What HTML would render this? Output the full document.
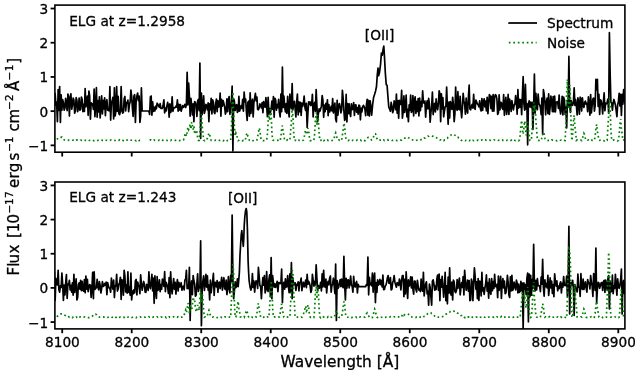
<!DOCTYPE html><html><head><meta charset="utf-8"><style>html,body{margin:0;padding:0;background:#fff;overflow:hidden}svg{display:block}</style></head><body><svg width="635" height="370" viewBox="0 0 635 370" font-family="DejaVu Sans, Liberation Sans, sans-serif">
<style>text{stroke:#000;stroke-width:0.3px}</style>
<rect width="635" height="370" fill="#fff"/>
<clipPath id="c0"><rect x="54.9" y="5.1" width="570.0" height="147.1"/></clipPath>
<polyline points="52.90,113.61 53.65,114.59 54.40,106.05 55.15,93.70 55.90,105.14 56.65,102.20 57.40,121.70 58.15,89.60 58.90,110.46 59.65,86.55 60.40,122.45 61.15,94.89 61.90,110.19 62.65,99.61 63.40,102.41 64.15,110.15 64.90,108.11 65.65,98.29 66.40,104.49 67.15,110.55 67.90,94.03 68.65,97.99 69.40,116.07 70.15,97.19 70.90,93.78 71.65,109.23 72.40,105.58 73.15,98.13 73.90,99.98 74.65,113.24 75.40,111.08 76.15,97.65 76.90,100.20 77.65,111.63 78.40,107.74 79.15,98.17 79.90,110.32 80.65,109.30 81.40,97.02 82.15,99.52 82.90,111.74 83.65,104.40 84.40,111.40 85.15,88.56 85.90,106.78 86.65,101.91 87.40,96.14 88.15,115.29 88.90,91.00 89.65,95.92 90.40,119.16 91.15,102.86 91.90,104.58 92.65,103.98 93.40,109.45 94.15,89.01 94.90,116.69 95.65,105.58 96.40,87.72 97.15,117.15 97.90,100.64 98.65,111.83 99.40,96.75 100.15,118.00 100.90,107.20 101.65,95.93 102.40,113.99 103.15,100.31 103.90,108.82 104.65,97.76 105.40,115.67 106.15,102.92 106.90,99.72 107.65,110.29 108.40,110.44 109.15,110.90 109.90,86.55 110.65,120.10 111.40,103.01 112.15,101.15 112.90,97.42 113.65,119.00 114.40,87.83 115.15,115.94 115.90,111.13 116.65,86.55 117.40,111.28 118.15,96.32 118.90,113.77 119.65,114.56 120.40,111.21 121.15,86.55 121.90,110.24 122.65,113.08 123.40,112.45 124.15,98.73 124.90,96.47 125.65,110.98 126.40,102.69 127.15,103.05 127.90,100.10 128.65,111.59 129.40,104.63 130.15,102.05 130.90,90.00 131.65,96.04 132.40,108.11 133.15,116.38 133.90,96.22 134.65,94.70 135.40,122.45 136.15,100.94 136.90,96.00 137.65,93.02 138.40,100.66 139.15,96.17 139.90,122.45 140.65,116.25 141.40,87.97 142.15,111.00 142.90,111.00 143.65,111.00 144.40,111.00 145.15,111.00 145.90,111.00 146.65,111.00 147.40,111.00 148.15,111.00 148.90,111.00 149.65,114.50 150.40,96.74 151.15,96.00 151.90,115.14 152.65,101.87 153.40,111.42 154.15,107.46 154.90,110.96 155.65,106.22 156.40,108.76 157.15,103.22 157.90,104.35 158.65,106.10 159.40,107.26 160.15,103.70 160.90,108.30 161.65,108.37 162.40,108.39 163.15,104.72 163.90,99.79 164.65,112.92 165.40,108.21 166.15,110.95 166.90,105.98 167.65,102.35 168.40,105.96 169.15,117.26 169.90,103.75 170.65,112.46 171.40,110.27 172.15,96.74 172.90,111.31 173.65,107.73 174.40,107.93 175.15,107.53 175.90,106.12 176.65,107.10 177.40,99.95 178.15,111.15 178.90,104.31 179.65,109.97 180.40,104.57 181.15,111.19 181.90,108.53 182.65,105.68 183.40,107.31 184.15,106.19 184.90,104.34 185.65,107.43 186.40,104.71 187.15,72.30 187.90,104.89 188.65,83.00 189.40,96.72 190.15,116.17 190.90,98.28 191.65,105.11 192.40,115.00 193.15,103.74 193.90,121.70 194.65,101.69 195.40,102.52 196.15,105.73 196.90,116.47 197.65,100.88 198.40,99.46 199.15,110.72 199.90,63.00 200.65,138.40 201.40,93.10 202.15,114.68 202.90,106.92 203.65,95.88 204.40,113.40 205.15,110.07 205.90,104.39 206.65,105.41 207.40,109.96 208.15,102.91 208.90,121.70 209.65,103.83 210.40,109.80 211.15,98.23 211.90,113.95 212.65,99.92 213.40,102.01 214.15,112.24 214.90,113.51 215.65,104.18 216.40,99.16 217.15,111.69 217.90,100.55 218.65,106.99 219.40,106.80 220.15,92.99 220.90,116.23 221.65,99.47 222.40,106.20 223.15,100.66 223.90,103.57 224.65,106.83 225.40,114.06 226.15,111.43 226.90,98.89 227.65,111.76 228.40,99.91 229.15,96.50 229.90,114.30 230.65,107.55 231.40,101.62 232.15,86.20 232.90,151.00 233.65,98.75 234.40,101.24 235.15,110.50 235.90,105.47 236.65,104.66 237.40,112.46 238.15,111.02 238.90,96.46 239.65,111.15 240.40,107.94 241.15,105.72 241.90,108.44 242.65,99.33 243.40,111.24 244.15,92.00 244.90,101.80 245.65,99.05 246.40,111.44 247.15,120.40 247.90,102.52 248.65,101.10 249.40,116.24 250.15,92.80 250.90,113.40 251.65,103.49 252.40,99.23 253.15,117.02 253.90,102.54 254.65,97.89 255.40,93.40 256.15,100.82 256.90,97.05 257.65,109.56 258.40,109.79 259.15,107.93 259.90,103.88 260.65,105.13 261.40,107.91 262.15,102.51 262.90,112.75 263.65,101.58 264.40,106.52 265.15,107.26 265.90,97.63 266.65,105.97 267.40,116.64 268.15,97.30 268.90,114.00 269.65,108.49 270.40,112.70 271.15,108.87 271.90,100.98 272.65,109.44 273.40,96.59 274.15,117.14 274.90,98.23 275.65,99.76 276.40,110.12 277.15,104.53 277.90,107.57 278.65,99.45 279.40,111.53 280.15,116.90 280.90,94.10 281.65,111.72 282.40,67.20 283.15,107.54 283.90,96.11 284.65,106.50 285.40,111.85 286.15,103.66 286.90,113.49 287.65,96.23 288.40,108.87 289.15,116.90 289.90,94.10 290.65,103.92 291.40,108.59 292.15,83.60 292.90,109.71 293.65,103.08 294.40,101.40 295.15,109.24 295.90,116.90 296.65,102.11 297.40,94.10 298.15,114.83 298.90,101.81 299.65,111.64 300.40,102.43 301.15,115.40 301.90,103.01 302.65,106.42 303.40,103.19 304.15,96.00 304.90,107.28 305.65,110.49 306.40,103.40 307.15,127.40 307.90,112.88 308.65,101.83 309.40,104.44 310.15,101.98 310.90,105.63 311.65,104.48 312.40,94.39 313.15,116.90 313.90,104.56 314.65,102.43 315.40,111.29 316.15,89.60 316.90,105.71 317.65,121.70 318.40,113.29 319.15,108.89 319.90,111.31 320.65,108.75 321.40,106.17 322.15,95.48 322.90,100.06 323.65,117.32 324.40,104.99 325.15,111.67 325.90,103.32 326.65,109.14 327.40,99.88 328.15,115.66 328.90,104.60 329.65,111.87 330.40,109.66 331.15,106.36 331.90,110.83 332.65,98.60 333.40,113.02 334.15,108.31 334.90,103.18 335.65,119.00 336.40,121.81 337.15,100.24 337.90,115.11 338.65,106.60 339.40,103.55 340.15,106.74 340.90,112.79 341.65,109.70 342.40,90.30 343.15,98.33 343.90,110.83 344.65,120.40 345.40,118.73 346.15,94.45 346.90,121.96 347.65,103.48 348.40,113.72 349.15,103.81 349.90,113.10 350.65,116.45 351.40,103.78 352.15,109.71 352.90,108.99 353.65,102.52 354.40,115.33 355.15,105.01 355.90,104.77 356.65,112.12 357.40,107.51 358.15,114.24 358.90,105.05 359.65,105.72 360.40,119.82 361.15,108.08 361.90,111.87 362.65,106.63 363.40,105.31 364.15,106.68 364.90,108.91 365.65,115.64 366.40,105.11 367.15,99.30 367.90,115.14 368.65,100.38 369.40,116.07 370.15,100.73 370.90,106.53 371.65,115.10 372.60,105.00 373.60,97.40 374.70,94.10 375.60,90.90 376.50,86.50 377.30,74.60 378.00,68.10 378.60,75.70 379.50,72.50 380.60,63.80 381.40,53.00 382.30,55.20 383.20,48.70 383.80,46.10 384.50,57.30 385.30,72.50 386.20,84.40 387.10,85.50 387.90,96.30 388.80,107.10 389.70,109.30 390.40,111.19 391.15,102.38 391.90,105.81 392.65,112.77 393.40,110.54 394.15,100.83 394.90,103.98 395.65,109.69 396.40,94.05 397.15,113.21 397.90,100.60 398.65,118.25 399.40,100.47 400.15,103.94 400.90,104.45 401.65,90.30 402.40,118.25 403.15,111.65 403.90,95.93 404.65,112.35 405.40,107.08 406.15,95.22 406.90,116.82 407.65,109.37 408.40,121.70 409.15,104.79 409.90,110.31 410.65,95.00 411.40,112.44 412.15,111.08 412.90,95.51 413.65,115.93 414.40,100.00 415.15,96.88 415.90,113.51 416.65,101.39 417.40,111.41 418.15,98.72 418.90,115.96 419.65,98.12 420.40,110.70 421.15,101.56 421.90,106.63 422.65,90.80 423.40,102.50 424.15,103.13 424.90,101.07 425.65,117.22 426.40,105.24 427.15,100.94 427.90,108.93 428.65,98.47 429.40,104.44 430.15,122.20 430.90,112.42 431.65,106.20 432.40,92.10 433.15,114.56 433.90,107.53 434.65,103.26 435.40,112.00 436.15,98.96 436.90,106.68 437.65,109.68 438.40,103.43 439.15,90.80 439.90,93.80 440.65,121.61 441.40,93.79 442.15,108.78 442.90,97.72 443.65,116.78 444.40,111.44 445.15,106.76 445.90,106.20 446.65,87.00 447.40,108.55 448.15,124.30 448.90,102.12 449.65,118.04 450.40,101.66 451.15,104.93 451.90,109.34 452.65,97.31 453.40,104.72 454.15,121.70 454.90,113.65 455.65,87.00 456.40,108.12 457.15,110.26 457.90,91.70 458.65,109.02 459.40,109.75 460.15,96.37 460.90,109.16 461.65,117.80 462.40,108.26 463.15,93.40 463.90,100.95 464.65,104.39 465.40,114.17 466.15,98.20 466.90,110.08 467.65,113.07 468.40,97.01 469.15,85.20 469.90,108.96 470.65,109.78 471.40,106.00 472.15,104.45 472.90,108.08 473.65,94.35 474.40,107.14 475.15,109.31 475.90,100.04 476.65,102.03 477.40,104.01 478.15,104.73 478.90,106.81 479.65,100.82 480.40,108.71 481.15,110.88 481.90,98.54 482.65,110.32 483.40,101.70 484.15,98.89 484.90,106.95 485.65,101.18 486.40,110.82 487.15,97.24 487.90,113.69 488.65,102.76 489.40,94.53 490.15,96.00 490.90,108.55 491.65,96.29 492.40,111.13 493.15,94.53 493.90,111.22 494.65,96.73 495.40,94.70 496.15,95.47 496.90,99.07 497.65,114.46 498.40,112.86 499.15,94.79 499.90,109.86 500.65,102.35 501.40,102.79 502.15,108.10 502.90,109.46 503.65,94.53 504.40,115.30 505.15,104.17 505.90,97.42 506.65,114.49 507.40,107.60 508.15,94.47 508.90,114.51 509.65,99.21 510.40,103.61 511.15,111.35 511.90,100.66 512.65,105.11 513.40,109.87 514.15,105.10 514.90,104.15 515.65,95.65 516.40,102.23 517.15,114.27 517.90,89.60 518.65,108.04 519.40,99.38 520.15,107.10 520.90,99.55 521.65,114.60 522.40,94.82 523.15,76.70 523.90,104.01 524.65,110.21 525.40,84.40 526.15,108.85 526.90,103.61 527.65,144.80 528.40,104.72 529.15,100.87 529.90,106.94 530.65,101.99 531.40,107.64 532.15,102.42 532.90,129.40 533.65,106.40 534.40,74.10 535.15,113.05 535.90,93.40 536.65,107.31 537.40,109.74 538.15,93.99 538.90,103.55 539.65,104.87 540.40,107.75 541.15,114.75 541.90,98.04 542.65,134.60 543.40,89.60 544.15,94.24 544.90,102.28 545.65,114.79 546.40,101.78 547.15,97.99 547.90,113.55 548.65,93.82 549.40,114.43 550.15,106.97 550.90,96.10 551.65,101.94 552.40,111.74 553.15,96.62 553.90,111.78 554.65,96.00 555.40,111.88 556.15,102.01 556.90,102.04 557.65,101.73 558.40,108.34 559.15,95.02 559.90,109.39 560.65,114.00 561.40,108.64 562.15,96.36 562.90,114.92 563.65,97.08 564.40,100.19 565.15,114.33 565.90,107.05 566.65,128.00 567.40,100.85 568.15,107.33 568.90,56.40 569.65,105.16 570.40,112.34 571.15,100.70 571.90,103.55 572.65,105.29 573.40,102.77 574.15,87.90 574.90,105.34 575.65,99.52 576.40,105.94 577.15,114.85 577.90,97.86 578.65,101.90 579.40,114.20 580.15,97.20 580.90,99.13 581.65,111.04 582.40,97.73 583.15,104.99 583.90,107.38 584.65,102.46 585.40,101.09 586.15,104.26 586.90,103.33 587.65,111.59 588.40,96.79 589.15,104.00 589.90,115.13 590.65,94.50 591.40,112.96 592.15,105.06 592.90,98.85 593.65,98.07 594.40,111.18 595.15,105.67 595.90,79.40 596.65,90.00 597.40,79.40 598.15,106.38 598.90,94.32 599.65,114.48 600.40,99.90 601.15,100.84 601.90,104.59 602.65,114.02 603.40,102.10 604.15,92.93 604.90,110.78 605.65,103.13 606.40,103.74 607.15,102.28 607.90,99.02 608.65,113.29 609.40,32.70 610.15,73.70 610.90,102.52 611.65,102.75 612.40,110.16 613.15,103.23 613.90,99.48 614.65,101.96 615.40,105.18 616.15,110.31 616.90,116.60 617.65,104.69 618.40,101.63 619.15,93.40 619.90,105.98 620.65,94.43 621.40,115.37 622.15,94.46 622.90,104.12 623.65,89.60 624.40,100.25 625.15,103.40 625.90,101.05 626.65,98.61" fill="none" stroke="#000" stroke-width="1.7" stroke-linejoin="round" clip-path="url(#c0)"/>
<polyline points="52.90,140.30 53.65,140.56 54.40,140.49 55.15,140.48 55.90,140.50 56.65,139.34 57.40,138.86 58.15,138.01 58.90,137.70 59.65,137.53 60.40,137.10 61.15,137.33 61.90,137.11 62.65,138.20 63.40,138.61 64.15,139.93 64.90,140.22 65.65,140.51 66.40,140.29 67.15,140.45 67.90,140.46 68.65,140.21 69.40,140.18 70.15,140.27 70.90,140.15 71.65,140.15 72.40,140.23 73.15,140.12 73.90,140.49 74.65,139.90 75.40,140.51 76.15,140.14 76.90,140.16 77.65,139.96 78.40,140.26 79.15,140.24 79.90,140.35 80.65,140.17 81.40,140.32 82.15,140.75 82.90,140.40 83.65,140.16 84.40,140.54 85.15,140.27 85.90,140.45 86.65,140.45 87.40,140.20 88.15,139.82 88.90,140.21 89.65,140.44 90.40,140.20 91.15,140.41 91.90,140.54 92.65,140.16 93.40,140.61 94.15,140.71 94.90,140.57 95.65,140.59 96.40,140.57 97.15,140.86 97.90,140.35 98.65,140.30 99.40,140.45 100.15,140.07 100.90,139.91 101.65,140.08 102.40,140.39 103.15,140.42 103.90,139.92 104.65,139.83 105.40,140.22 106.15,140.25 106.90,140.29 107.65,140.47 108.40,140.61 109.15,140.36 109.90,140.45 110.65,140.03 111.40,140.01 112.15,140.36 112.90,140.47 113.65,140.48 114.40,140.45 115.15,140.50 115.90,140.50 116.65,139.86 117.40,140.12 118.15,140.41 118.90,140.45 119.65,139.92 120.40,140.59 121.15,140.19 121.90,140.24 122.65,140.37 123.40,140.49 124.15,139.94 124.90,140.55 125.65,140.32 126.40,140.11 127.15,140.23 127.90,139.75 128.65,140.14 129.40,140.35 130.15,140.12 130.90,140.22 131.65,140.26 132.40,140.31 133.15,140.56 133.90,140.29 134.65,140.24 135.40,140.43 136.15,140.82 136.90,140.21 137.65,140.43 138.40,139.91 139.15,140.64 139.90,140.46 140.65,140.63" fill="none" stroke="#008000" stroke-width="1.7" stroke-dasharray="1.7,2.77" stroke-linecap="butt" clip-path="url(#c0)"/>
<polyline points="149.65,140.27 150.40,139.88 151.15,140.08 151.90,140.71 152.65,140.27 153.40,140.15 154.15,139.98 154.90,140.45 155.65,140.46 156.40,140.36 157.15,140.20 157.90,140.38 158.65,140.40 159.40,140.13 160.15,140.46 160.90,139.77 161.65,139.98 162.40,140.22 163.15,140.27 163.90,140.01 164.65,140.38 165.40,140.56 166.15,140.41 166.90,140.36 167.65,140.51 168.40,140.40 169.15,140.01 169.90,140.25 170.65,140.62 171.40,140.02 172.15,140.32 172.90,140.20 173.65,140.08 174.40,140.05 175.15,140.33 175.90,140.38 176.65,140.38 177.40,139.94 178.15,140.23 178.90,140.39 179.65,140.54 180.40,140.47 181.15,140.51 181.90,140.57 182.65,140.51 183.40,140.10 184.15,138.48 184.90,134.82 185.65,133.00 186.40,136.28 187.15,132.32 187.90,127.00 188.65,129.66 189.40,128.07 190.15,124.00 190.90,129.32 191.65,122.00 192.40,125.66 193.15,129.57 193.90,126.00 194.65,132.44 195.40,134.12 196.15,130.00 196.90,132.06 197.65,137.73 198.40,140.37 199.15,140.36 199.90,133.73 200.65,120.58 201.40,114.00 202.15,125.84 202.90,132.41 203.65,139.98 204.40,140.68 205.15,140.01 205.90,140.41 206.65,140.21 207.40,138.11 208.15,135.92 208.90,133.00 209.65,134.46 210.40,138.48 211.15,140.33 211.90,140.29 212.65,140.22 213.40,140.46 214.15,140.63 214.90,140.44 215.65,140.11 216.40,140.40 217.15,140.32 217.90,140.42 218.65,140.76 219.40,140.25 220.15,140.30 220.90,140.08 221.65,140.23 222.40,140.16 223.15,140.70 223.90,140.38 224.65,140.16 225.40,140.78 226.15,139.97 226.90,140.52 227.65,140.55 228.40,140.44 229.15,140.23 229.90,140.27 230.65,140.21 231.40,128.23 232.15,104.08 232.90,92.00 233.65,113.74 234.40,125.81 235.15,135.92 235.90,133.00 236.65,134.46 237.40,138.48 238.15,140.65 238.90,140.32 239.65,139.82 240.40,140.25 241.15,140.07 241.90,140.47 242.65,140.72 243.40,140.38 244.15,140.81 244.90,140.68 245.65,138.48 246.40,134.82 247.15,133.00 247.90,136.28 248.65,138.11 249.40,140.36 250.15,140.67 250.90,140.41 251.65,139.85 252.40,140.50 253.15,140.57 253.90,140.75 254.65,140.09 255.40,140.11 256.15,140.35 256.90,140.07 257.65,136.61 258.40,132.92 259.15,128.00 259.90,130.46 260.65,137.23 261.40,140.22 262.15,140.33 262.90,140.65 263.65,140.56 264.40,140.52 265.15,140.34 265.90,140.36 266.65,140.17 267.40,133.98 268.15,121.32 268.90,115.00 269.65,120.68 270.40,107.60 271.15,114.14 271.90,132.12 272.65,139.98 273.40,140.30 274.15,140.42 274.90,140.53 275.65,140.45 276.40,140.58 277.15,140.40 277.90,140.32 278.65,139.83 279.40,140.19 280.15,140.71 280.90,136.60 281.65,129.20 282.40,125.50 283.15,132.16 283.90,135.86 284.65,140.41 285.40,140.69 286.15,140.45 286.90,140.25 287.65,139.76 288.40,140.34 289.15,139.93 289.90,139.77 290.65,130.85 291.40,121.40 292.15,108.80 292.90,115.10 293.65,132.43 294.40,140.43 295.15,140.36 295.90,140.34 296.65,140.51 297.40,139.70 298.15,140.54 298.90,140.16 299.65,140.53 300.40,140.61 301.15,140.11 301.90,140.52 302.65,140.51 303.40,140.14 304.15,137.73 304.90,132.57 305.65,130.00 306.40,134.64 307.15,132.92 307.90,128.00 308.65,130.46 309.40,137.23 310.15,140.68 310.90,140.63 311.65,140.27 312.40,140.10 313.15,140.30 313.90,140.31 314.65,133.40 315.40,119.60 316.15,112.70 316.90,125.12 317.65,115.00 318.40,120.06 319.15,133.98 319.90,140.59 320.65,140.30 321.40,140.41 322.15,140.71 322.90,139.56 323.65,140.70 324.40,140.35 325.15,139.84 325.90,139.63 326.65,140.38 327.40,140.04 328.15,140.55 328.90,140.35 329.65,140.27 330.40,140.55 331.15,140.35 331.90,140.49 332.65,140.51 333.40,140.38 334.15,138.48 334.90,134.82 335.65,133.00 336.40,136.28 337.15,138.11 337.90,140.21 338.65,139.90 339.40,140.16 340.15,140.39 340.90,140.35 341.65,140.68 342.40,135.11 343.15,129.92 343.90,123.00 344.65,126.46 345.40,135.98 346.15,139.83 346.90,140.39 347.65,140.55 348.40,140.58 349.15,140.03 349.90,140.25 350.65,140.76 351.40,140.27 352.15,140.39 352.90,140.26 353.65,140.55 354.40,140.54 355.15,140.88 355.90,140.43 356.65,140.41 357.40,140.00 358.15,140.20 358.90,140.12 359.65,140.22 360.40,139.97 361.15,140.60 361.90,140.04 362.65,140.37 363.40,139.99 364.15,140.39 364.90,140.71 365.65,139.85 366.40,139.35 367.15,138.26 367.90,137.58 368.65,137.42 369.40,137.60 370.15,138.62 370.90,139.48 371.65,140.02 372.40,139.69 373.15,138.30 373.90,135.19 374.65,133.70 375.40,133.74 376.15,135.30 376.90,138.49 377.65,139.85 378.40,140.46 379.15,140.66 379.90,140.12 380.65,140.07 381.40,140.06 382.15,140.87 382.90,140.21 383.65,139.98 384.40,140.50 385.15,140.26 385.90,140.29 386.65,140.05 387.40,139.74 388.15,140.12 388.90,140.04 389.65,139.89 390.40,140.03 391.15,140.06 391.90,140.50 392.65,140.47 393.40,140.43 394.15,140.16 394.90,139.98 395.65,140.37 396.40,140.41 397.15,140.55 397.90,140.29 398.65,140.26 399.40,140.37 400.15,140.06 400.90,139.98 401.65,140.06 402.40,139.19 403.15,139.01 403.90,138.73 404.65,138.12 405.40,137.78 406.15,137.13 406.90,137.27 407.65,137.29 408.40,137.74 409.15,138.05 409.90,138.41 410.65,139.38 411.40,139.53 412.15,139.74 412.90,139.97 413.65,140.28 414.40,140.16 415.15,140.71 415.90,140.45 416.65,140.23 417.40,140.14 418.15,140.04 418.90,140.18 419.65,140.44 420.40,140.12 421.15,139.62 421.90,139.34 422.65,138.47 423.40,138.72 424.15,138.06 424.90,138.04 425.65,137.24 426.40,136.78 427.15,136.61 427.90,136.11 428.65,136.38 429.40,135.97 430.15,135.91 430.90,135.90 431.65,135.82 432.40,136.18 433.15,136.34 433.90,137.02 434.65,136.94 435.40,137.41 436.15,137.61 436.90,138.06 437.65,138.49 438.40,139.30 439.15,139.36 439.90,139.91 440.65,139.87 441.40,140.05 442.15,139.79 442.90,140.53 443.65,140.78 444.40,140.00 445.15,140.08 445.90,139.47 446.65,138.53 447.40,138.28 448.15,137.22 448.90,136.73 449.65,136.52 450.40,135.73 451.15,134.98 451.90,135.34 452.65,134.57 453.40,134.81 454.15,134.92 454.90,135.26 455.65,135.51 456.40,135.84 457.15,137.31 457.90,137.25 458.65,137.91 459.40,138.14 460.15,139.32 460.90,140.07 461.65,140.43 462.40,140.97 463.15,140.70 463.90,140.43 464.65,140.33 465.40,140.68 466.15,140.32 466.90,140.38 467.65,140.09 468.40,140.35 469.15,140.82 469.90,140.31 470.65,140.43 471.40,139.73 472.15,140.66 472.90,140.42 473.65,140.68 474.40,140.38 475.15,140.11 475.90,139.98 476.65,140.45 477.40,140.31 478.15,140.08 478.90,140.30 479.65,140.16 480.40,140.49 481.15,140.21 481.90,140.01 482.65,140.29 483.40,140.17 484.15,140.67 484.90,140.19 485.65,139.97 486.40,140.29 487.15,140.24 487.90,140.36 488.65,140.35 489.40,140.04 490.15,140.28 490.90,140.27 491.65,139.99 492.40,140.15 493.15,140.34 493.90,139.89 494.65,140.02 495.40,140.17 496.15,140.26 496.90,140.41 497.65,139.94 498.40,140.36 499.15,140.44 499.90,140.67 500.65,140.17 501.40,140.05 502.15,139.90 502.90,140.42 503.65,140.60 504.40,140.11 505.15,140.39 505.90,140.50 506.65,140.52 507.40,140.19 508.15,140.45 508.90,140.28 509.65,140.06 510.40,140.36 511.15,140.39 511.90,140.06 512.65,140.41 513.40,140.80 514.15,139.93 514.90,140.48 515.65,140.53 516.40,140.32 517.15,140.39 517.90,140.24 518.65,140.64 519.40,140.07 520.15,135.33 520.90,125.38 521.65,120.40 522.40,129.36 523.15,134.33 523.90,128.72 524.65,121.00 525.40,124.86 526.15,135.48 526.90,126.58 527.65,122.00 528.40,130.24 529.15,134.81 529.90,140.40 530.65,140.39 531.40,140.27 532.15,128.93 532.90,117.56 533.65,102.40 534.40,109.98 535.15,105.00 535.90,120.88 536.65,129.71 537.40,140.08 538.15,140.23 538.90,140.57 539.65,140.00 540.40,139.96 541.15,140.37 541.90,137.81 542.65,135.32 543.40,132.00 544.15,133.66 544.90,138.23 545.65,140.07 546.40,140.06 547.15,140.50 547.90,140.53 548.65,140.33 549.40,140.29 550.15,140.16 550.90,140.65 551.65,139.93 552.40,140.08 553.15,140.16 553.90,139.92 554.65,139.97 555.40,140.04 556.15,140.55 556.90,140.75 557.65,140.39 558.40,139.89 559.15,140.15 559.90,140.27 560.65,140.23 561.40,140.21 562.15,140.43 562.90,139.81 563.65,140.16 564.40,140.35 565.15,140.48 565.90,125.05 566.65,94.55 567.40,79.30 568.15,106.75 568.90,107.12 569.65,85.00 570.40,96.06 571.15,126.48 571.90,140.60 572.65,134.05 573.40,121.55 574.15,115.30 574.90,126.55 575.65,132.80 576.40,140.43 577.15,139.90 577.90,139.95 578.65,140.44 579.40,140.38 580.15,140.65 580.90,140.19 581.65,140.59 582.40,138.20 583.15,136.10 583.90,133.30 584.65,134.70 585.40,138.55 586.15,140.38 586.90,140.06 587.65,140.17 588.40,139.99 589.15,140.89 589.90,140.30 590.65,140.31 591.40,140.16 592.15,140.32 592.90,140.51 593.65,140.23 594.40,140.31 595.15,136.30 595.90,128.30 596.65,124.30 597.40,131.50 598.15,135.50 598.90,140.13 599.65,140.38 600.40,140.14 601.15,140.13 601.90,140.21 602.65,140.04 603.40,140.36 604.15,140.94 604.90,140.15 605.65,139.89 606.40,140.54 607.15,140.28 607.90,127.79 608.65,115.28 609.40,98.60 610.15,106.94 610.90,129.88 611.65,140.25 612.40,140.46 613.15,140.08 613.90,139.90 614.65,140.14 615.40,140.18 616.15,140.21 616.90,140.28 617.65,140.89 618.40,140.29 619.15,134.98 619.90,124.32 620.65,119.00 621.40,128.58 622.15,133.91 622.90,140.28 623.65,139.91 624.40,140.33 625.15,140.25 625.90,140.59 626.65,139.91" fill="none" stroke="#008000" stroke-width="1.7" stroke-dasharray="1.7,2.77" stroke-linecap="butt" clip-path="url(#c0)"/>
<rect x="54.9" y="5.1" width="570.0" height="147.1" fill="none" stroke="#000" stroke-width="1.6"/>
<line x1="54.9" x2="50.6" y1="145.36" y2="145.36" stroke="#000" stroke-width="1.8"/>
<text x="48.30" y="150.86" font-size="13.7" text-anchor="end">−1</text>
<line x1="54.9" x2="50.6" y1="111.15" y2="111.15" stroke="#000" stroke-width="1.8"/>
<text x="48.30" y="116.65" font-size="13.7" text-anchor="end">0</text>
<line x1="54.9" x2="50.6" y1="76.94" y2="76.94" stroke="#000" stroke-width="1.8"/>
<text x="48.30" y="82.44" font-size="13.7" text-anchor="end">1</text>
<line x1="54.9" x2="50.6" y1="42.73" y2="42.73" stroke="#000" stroke-width="1.8"/>
<text x="48.30" y="48.23" font-size="13.7" text-anchor="end">2</text>
<line x1="54.9" x2="50.6" y1="8.52" y2="8.52" stroke="#000" stroke-width="1.8"/>
<text x="48.30" y="14.02" font-size="13.7" text-anchor="end">3</text>
<line x1="62.20" x2="62.20" y1="152.2" y2="156.5" stroke="#000" stroke-width="1.8"/>
<line x1="131.71" x2="131.71" y1="152.2" y2="156.5" stroke="#000" stroke-width="1.8"/>
<line x1="201.22" x2="201.22" y1="152.2" y2="156.5" stroke="#000" stroke-width="1.8"/>
<line x1="270.74" x2="270.74" y1="152.2" y2="156.5" stroke="#000" stroke-width="1.8"/>
<line x1="340.25" x2="340.25" y1="152.2" y2="156.5" stroke="#000" stroke-width="1.8"/>
<line x1="409.76" x2="409.76" y1="152.2" y2="156.5" stroke="#000" stroke-width="1.8"/>
<line x1="479.27" x2="479.27" y1="152.2" y2="156.5" stroke="#000" stroke-width="1.8"/>
<line x1="548.78" x2="548.78" y1="152.2" y2="156.5" stroke="#000" stroke-width="1.8"/>
<line x1="618.30" x2="618.30" y1="152.2" y2="156.5" stroke="#000" stroke-width="1.8"/>
<clipPath id="c1"><rect x="54.9" y="182.0" width="570.0" height="146.89999999999998"/></clipPath>
<polyline points="52.90,290.39 53.65,293.65 54.40,271.95 55.15,300.45 55.90,278.32 56.65,281.61 57.40,284.98 58.15,270.40 58.90,289.72 59.65,292.20 60.40,285.94 61.15,287.39 61.90,273.15 62.65,284.39 63.40,300.44 64.15,285.01 64.90,294.92 65.65,283.62 66.40,274.59 67.15,298.50 67.90,284.17 68.65,284.64 69.40,280.29 70.15,289.88 70.90,285.28 71.65,292.19 72.40,282.90 73.15,295.12 73.90,274.39 74.65,292.48 75.40,287.04 76.15,278.73 76.90,300.00 77.65,297.56 78.40,284.70 79.15,282.86 79.90,289.26 80.65,280.33 81.40,290.63 82.15,281.45 82.90,290.01 83.65,291.22 84.40,279.68 85.15,292.78 85.90,276.12 86.65,289.07 87.40,279.26 88.15,291.68 88.90,287.07 89.65,284.60 90.40,285.42 91.15,297.40 91.90,288.65 92.65,272.44 93.40,298.65 94.15,271.88 94.90,289.48 95.65,288.40 96.40,287.58 97.15,279.35 97.90,286.51 98.65,289.84 99.40,281.62 100.15,285.40 100.90,293.01 101.65,288.71 102.40,281.57 103.15,286.50 103.90,285.92 104.65,283.48 105.40,285.09 106.15,282.19 106.90,294.67 107.65,282.69 108.40,285.67 109.15,287.93 109.90,288.39 110.65,292.25 111.40,278.07 112.15,284.93 112.90,289.11 113.65,280.13 114.40,297.54 115.15,285.93 115.90,286.09 116.65,274.30 117.40,291.07 118.15,289.07 118.90,284.37 119.65,282.16 120.40,277.24 121.15,299.35 121.90,279.71 122.65,282.62 123.40,295.22 124.15,270.40 124.90,276.05 125.65,291.87 126.40,284.91 127.15,293.25 127.90,271.83 128.65,292.29 129.40,286.98 130.15,295.21 130.90,273.19 131.65,300.00 132.40,291.00 133.15,293.88 133.90,289.74 134.65,292.83 135.40,280.67 136.15,279.45 136.90,294.98 137.65,282.02 138.40,284.91 139.15,287.07 139.90,293.63 140.65,274.91 141.40,283.97 142.15,290.26 142.90,285.95 143.65,281.47 144.40,284.44 145.15,292.27 145.90,292.38 146.65,284.30 147.40,286.95 148.15,290.44 148.90,271.79 149.65,285.94 150.40,288.61 151.15,282.04 151.90,274.30 152.65,290.91 153.40,278.02 154.15,303.30 154.90,275.77 155.65,289.38 156.40,298.49 157.15,276.72 157.90,290.42 158.65,288.82 159.40,279.89 160.15,291.71 160.90,284.70 161.65,289.24 162.40,279.07 163.15,280.24 163.90,286.37 164.65,271.70 165.40,291.73 166.15,282.38 166.90,284.54 167.65,286.73 168.40,293.42 169.15,277.61 169.90,297.67 170.65,271.84 171.40,287.98 172.15,293.80 172.90,285.26 173.65,278.54 174.40,289.20 175.15,282.25 175.90,294.07 176.65,285.40 177.40,279.69 178.15,291.03 178.90,282.36 179.65,286.96 180.40,286.49 181.15,282.71 181.90,290.23 182.65,286.56 183.40,286.23 184.15,289.85 184.90,280.11 185.65,279.17 186.40,270.40 187.15,288.66 187.90,285.06 188.65,288.60 189.40,267.30 190.15,320.50 190.90,285.54 191.65,280.97 192.40,294.77 193.15,275.60 193.90,281.02 194.65,284.01 195.40,296.10 196.15,295.17 196.90,283.49 197.65,273.77 198.40,291.41 199.15,287.31 199.90,287.67 200.65,240.90 201.40,325.70 202.15,290.01 202.90,280.94 203.65,275.96 204.40,290.37 205.15,284.55 205.90,274.30 206.65,287.07 207.40,275.81 208.15,290.22 208.90,285.05 209.65,300.00 210.40,280.19 211.15,292.68 211.90,286.26 212.65,281.58 213.40,273.47 214.15,295.49 214.90,282.26 215.65,282.76 216.40,286.87 217.15,280.51 217.90,292.32 218.65,282.94 219.40,282.10 220.15,288.63 220.90,283.74 221.65,277.27 222.40,290.10 223.15,283.15 223.90,277.72 224.65,288.29 225.40,289.62 226.15,280.04 226.90,294.53 227.65,288.17 228.40,276.68 229.15,288.86 229.90,292.94 230.65,275.35 231.40,281.41 232.15,215.10 232.90,279.26 233.65,298.60 234.40,291.10 235.15,281.73 235.90,287.64 236.65,286.29 237.40,278.76 238.15,286.67 238.60,282.00 239.40,272.00 240.00,255.00 240.60,245.00 241.20,235.00 241.80,230.50 242.50,238.00 243.30,246.30 243.80,238.00 244.20,226.00 244.80,217.00 245.50,211.00 246.20,208.50 246.80,212.00 247.40,229.00 248.10,261.00 248.60,272.00 249.10,280.50 250.15,287.61 250.90,290.12 251.65,286.95 252.40,273.49 253.15,287.38 253.90,280.97 254.65,292.24 255.40,283.42 256.15,280.71 256.90,282.57 257.65,288.43 258.40,267.30 259.15,276.36 259.90,285.71 260.65,286.25 261.40,298.70 262.15,286.06 262.90,277.67 263.65,285.13 264.40,275.53 265.15,292.93 265.90,289.72 266.65,271.71 267.40,289.07 268.15,291.49 268.90,279.93 269.65,274.81 270.40,296.71 271.15,257.60 271.90,298.70 272.65,275.72 273.40,282.76 274.15,287.07 274.90,283.93 275.65,287.36 276.40,284.40 277.15,281.38 277.90,291.57 278.65,282.64 279.40,282.72 280.15,283.71 280.90,283.04 281.65,269.10 282.40,302.60 283.15,283.90 283.90,282.38 284.65,289.09 285.40,278.77 286.15,287.18 286.90,286.63 287.65,275.48 288.40,286.72 289.15,292.70 289.90,273.90 290.65,292.53 291.40,262.70 292.15,298.70 292.90,277.76 293.65,284.83 294.40,284.40 295.15,282.78 295.90,290.48 296.65,284.35 297.40,285.12 298.15,281.91 298.90,290.80 299.65,283.09 300.40,281.96 301.15,278.11 301.90,290.71 302.65,284.63 303.40,282.20 304.15,286.93 304.90,285.07 305.65,280.01 306.40,287.60 307.15,274.30 307.90,284.24 308.65,281.37 309.40,283.06 310.15,286.12 310.90,292.30 311.65,289.71 312.40,274.36 313.15,280.46 313.90,286.05 314.65,281.36 315.40,284.95 316.15,264.80 316.90,278.47 317.65,289.90 318.40,285.53 319.15,288.21 319.90,287.11 320.65,282.33 321.40,290.93 322.15,273.97 322.90,286.97 323.65,270.40 324.40,285.41 325.15,287.17 325.90,279.02 326.65,292.92 327.40,283.96 328.15,281.25 328.90,284.94 329.65,277.99 330.40,276.00 331.15,292.10 331.90,285.75 332.65,283.97 333.40,278.23 334.15,285.71 334.90,293.53 335.65,264.00 336.40,320.50 337.15,280.50 337.90,288.43 338.65,287.34 339.40,283.07 340.15,279.59 340.90,286.69 341.65,279.05 342.40,285.62 343.15,287.74 343.90,256.30 344.65,284.79 345.40,300.00 346.15,278.37 346.90,288.06 347.65,280.05 348.40,279.88 349.15,287.90 349.90,282.37 350.65,276.13 351.40,285.40 352.15,286.20 352.90,292.13 353.65,276.40 354.40,285.82 355.15,286.98 355.90,283.20 356.65,281.50 357.40,292.86 358.15,284.31 358.90,286.60 359.65,286.60 360.40,286.60 361.15,286.60 361.90,286.60 362.65,286.60 363.40,286.60 364.15,286.60 364.90,286.60 365.65,286.60 366.40,284.62 367.15,285.15 367.90,257.00 368.65,294.83 369.40,277.38 370.15,284.68 370.90,283.46 371.65,285.76 372.40,273.17 373.15,292.25 373.90,277.51 374.65,273.00 375.40,302.60 376.15,282.55 376.90,292.50 377.65,279.81 378.40,285.21 379.15,283.59 379.90,279.34 380.65,284.75 381.40,280.71 382.15,286.88 382.90,275.01 383.65,289.77 384.40,289.47 385.15,286.38 385.90,285.09 386.65,282.36 387.40,277.77 388.15,275.60 388.90,283.28 389.65,283.44 390.40,277.61 391.15,289.89 391.90,289.07 392.65,282.57 393.40,280.45 394.15,275.60 394.90,282.17 395.65,284.80 396.40,287.23 397.15,282.69 397.90,283.16 398.65,285.50 399.40,278.98 400.15,282.28 400.90,289.85 401.65,279.65 402.40,275.60 403.15,275.60 403.90,296.65 404.65,279.39 405.40,293.91 406.15,271.84 406.90,285.83 407.65,298.40 408.40,279.92 409.15,286.24 409.90,284.63 410.65,276.80 411.40,287.92 412.15,277.10 412.90,289.14 413.65,294.22 414.40,281.07 415.15,281.39 415.90,289.34 416.65,291.89 417.40,280.32 418.15,286.11 418.90,290.09 419.65,289.34 420.40,291.51 421.15,279.14 421.90,289.17 422.65,291.18 423.40,272.25 424.15,295.89 424.90,288.63 425.65,283.96 426.40,281.81 427.15,293.83 427.90,291.32 428.65,305.10 429.40,284.04 430.15,287.40 430.90,296.78 431.65,305.10 432.40,281.22 433.15,279.79 433.90,283.89 434.65,290.27 435.40,286.09 436.15,289.54 436.90,278.59 437.65,275.00 438.40,290.28 439.15,274.07 439.90,300.75 440.65,279.70 441.40,287.11 442.15,276.40 442.90,286.25 443.65,297.23 444.40,287.29 445.15,272.25 445.90,300.75 446.65,285.73 447.40,303.80 448.15,277.11 448.90,293.08 449.65,267.80 450.40,292.64 451.15,295.05 451.90,282.13 452.65,300.00 453.40,280.13 454.15,281.84 454.90,291.24 455.65,292.71 456.40,290.70 457.15,279.61 457.90,288.35 458.65,283.04 459.40,278.07 460.15,294.80 460.90,288.27 461.65,282.53 462.40,287.40 463.15,276.56 463.90,295.00 464.65,270.40 465.40,280.22 466.15,290.24 466.90,286.55 467.65,280.04 468.40,291.23 469.15,280.72 469.90,300.75 470.65,300.00 471.40,279.12 472.15,282.27 472.90,300.75 473.65,283.55 474.40,267.80 475.15,276.63 475.90,289.31 476.65,281.83 477.40,298.60 478.15,278.50 478.90,300.46 479.65,281.02 480.40,282.32 481.15,296.00 481.90,272.47 482.65,290.91 483.40,287.86 484.15,294.50 484.90,288.15 485.65,283.98 486.40,274.95 487.15,291.10 487.90,282.60 488.65,298.14 489.40,278.93 490.15,291.62 490.90,294.30 491.65,278.59 492.40,290.63 493.15,281.69 493.90,288.34 494.65,274.30 495.40,286.47 496.15,286.86 496.90,284.25 497.65,297.69 498.40,276.08 499.15,290.28 499.90,284.13 500.65,276.28 501.40,298.36 502.15,283.95 502.90,278.67 503.65,287.87 504.40,281.01 505.15,293.73 505.90,292.94 506.65,286.44 507.40,275.25 508.15,282.42 508.90,295.07 509.65,297.40 510.40,276.80 511.15,290.94 511.90,275.26 512.65,290.47 513.40,288.42 514.15,282.21 514.90,286.18 515.65,289.89 516.40,280.20 517.15,283.13 517.90,292.83 518.65,284.07 519.40,292.30 520.15,291.19 520.90,281.27 521.65,290.61 522.40,283.17 523.15,328.30 523.90,282.82 524.65,289.25 525.40,284.54 526.15,294.73 526.90,278.46 527.65,273.00 528.40,321.80 529.15,274.04 529.90,296.83 530.65,275.37 531.40,295.22 532.15,279.55 532.90,288.70 533.65,244.30 534.40,284.78 535.15,291.00 535.90,280.45 536.65,290.01 537.40,278.49 538.15,285.77 538.90,285.58 539.65,286.74 540.40,291.57 541.15,276.98 541.90,284.25 542.65,259.40 543.40,287.45 544.15,296.10 544.90,279.74 545.65,286.62 546.40,283.56 547.15,287.85 547.90,275.35 548.65,295.42 549.40,287.61 550.15,277.97 550.90,287.97 551.65,281.18 552.40,293.37 553.15,284.71 553.90,296.67 554.65,273.87 555.40,281.82 556.15,286.12 556.90,280.96 557.65,290.79 558.40,286.00 559.15,288.58 559.90,283.87 560.65,281.81 561.40,292.94 562.15,283.37 562.90,287.14 563.65,276.62 564.40,285.44 565.15,285.15 565.90,285.65 566.65,276.14 567.40,296.58 568.15,279.88 568.90,226.30 569.65,314.00 570.40,289.60 571.15,282.58 571.90,284.94 572.65,280.30 573.40,288.46 574.15,315.40 574.90,284.60 575.65,288.15 576.40,289.05 577.15,291.95 577.90,274.10 578.65,286.97 579.40,287.54 580.15,296.50 580.90,273.69 581.65,287.55 582.40,289.31 583.15,279.11 583.90,289.56 584.65,285.76 585.40,281.95 586.15,288.14 586.90,292.16 587.65,279.56 588.40,282.65 589.15,283.09 589.90,288.94 590.65,275.60 591.40,282.10 592.15,286.09 592.90,296.41 593.65,273.61 594.40,282.69 595.15,290.31 595.90,248.00 596.65,302.60 597.40,288.98 598.15,282.35 598.90,282.86 599.65,288.28 600.40,285.53 601.15,282.89 601.90,282.64 602.65,290.33 603.40,281.69 604.15,280.28 604.90,292.43 605.65,280.09 606.40,284.31 607.15,290.08 607.90,278.92 608.65,275.60 609.40,309.00 610.15,281.21 610.90,291.88 611.65,291.39 612.40,275.19 613.15,293.69 613.90,285.90 614.65,288.35 615.40,274.42 616.15,285.67 616.90,295.19 617.65,278.79 618.40,285.10 619.15,288.37 619.90,285.33 620.65,280.12 621.40,269.10 622.15,314.00 622.90,283.92 623.65,280.47 624.40,293.66 625.15,284.40 625.90,280.34 626.65,283.42" fill="none" stroke="#000" stroke-width="1.7" stroke-linejoin="round" clip-path="url(#c1)"/>
<polyline points="52.90,316.75 53.65,316.80 54.40,316.77 55.15,316.94 55.90,317.30 56.65,316.17 57.40,316.28 58.15,315.75 58.90,314.72 59.65,314.08 60.40,313.96 61.15,313.93 61.90,314.17 62.65,314.09 63.40,314.69 64.15,314.74 64.90,315.26 65.65,315.66 66.40,316.31 67.15,316.86 67.90,317.15 68.65,316.77 69.40,317.30 70.15,317.07 70.90,316.94 71.65,316.91 72.40,317.61 73.15,317.14 73.90,316.88 74.65,316.86 75.40,317.56 76.15,316.96 76.90,317.40 77.65,317.46 78.40,316.52 79.15,317.44 79.90,317.05 80.65,316.83 81.40,316.96 82.15,317.24 82.90,317.19 83.65,317.21 84.40,316.92 85.15,317.42 85.90,317.48 86.65,317.56 87.40,317.35 88.15,317.57 88.90,317.62 89.65,317.28 90.40,317.28 91.15,316.93 91.90,316.45 92.65,315.95 93.40,314.75 94.15,314.69 94.90,314.72 95.65,314.18 96.40,314.69 97.15,315.97 97.90,315.90 98.65,316.56 99.40,317.11 100.15,316.98 100.90,316.88 101.65,316.97 102.40,316.99 103.15,316.96 103.90,317.15 104.65,317.50 105.40,317.19 106.15,317.51 106.90,317.28 107.65,317.31 108.40,317.25 109.15,317.03 109.90,317.21 110.65,317.18 111.40,316.82 112.15,317.29 112.90,317.24 113.65,317.19 114.40,316.96 115.15,316.44 115.90,317.47 116.65,317.08 117.40,316.56 118.15,317.26 118.90,316.93 119.65,317.27 120.40,317.07 121.15,317.38 121.90,317.16 122.65,317.17 123.40,317.14 124.15,317.41 124.90,316.78 125.65,317.39 126.40,317.27 127.15,316.96 127.90,317.10 128.65,316.99 129.40,317.11 130.15,317.34 130.90,316.93 131.65,317.29 132.40,317.34 133.15,317.26 133.90,317.49 134.65,317.08 135.40,317.27 136.15,317.72 136.90,317.11 137.65,317.07 138.40,317.10 139.15,317.25 139.90,316.95 140.65,317.04 141.40,316.66 142.15,316.84 142.90,316.84 143.65,316.81 144.40,316.99 145.15,317.27 145.90,317.00 146.65,316.77 147.40,317.16 148.15,317.14 148.90,316.75 149.65,317.14 150.40,316.83 151.15,316.94 151.90,316.92 152.65,317.31 153.40,316.89 154.15,317.02 154.90,317.15 155.65,317.36 156.40,317.40 157.15,316.84 157.90,317.40 158.65,317.17 159.40,317.40 160.15,317.36 160.90,316.97 161.65,317.11 162.40,317.03 163.15,317.19 163.90,317.51 164.65,317.11 165.40,316.93 166.15,317.73 166.90,316.85 167.65,317.10 168.40,317.10 169.15,316.78 169.90,317.30 170.65,317.37 171.40,317.08 172.15,317.11 172.90,317.06 173.65,316.66 174.40,317.16 175.15,316.79 175.90,316.86 176.65,317.20 177.40,317.33 178.15,316.88 178.90,317.39 179.65,317.54 180.40,317.14 181.15,317.08 181.90,317.15 182.65,317.00 183.40,316.89 184.15,315.33 184.90,311.77 185.65,310.00 186.40,312.87 187.15,308.64 187.90,303.00 188.65,305.82 189.40,313.58 190.15,308.02 190.90,305.00 191.65,310.44 192.40,305.04 193.15,297.00 193.90,301.02 194.65,300.00 195.40,307.70 196.15,311.97 196.90,309.84 197.65,305.00 198.40,307.42 199.15,310.58 199.90,297.52 200.65,291.00 201.40,302.64 202.15,293.00 202.90,297.82 203.65,311.08 204.40,317.11 205.15,316.86 205.90,317.18 206.65,317.01 207.40,315.40 208.15,312.00 208.90,310.30 209.65,313.36 210.40,315.06 211.15,316.99 211.90,317.01 212.65,317.19 213.40,316.90 214.15,317.01 214.90,316.89 215.65,316.91 216.40,317.05 217.15,317.69 217.90,317.00 218.65,317.16 219.40,317.12 220.15,317.06 220.90,317.11 221.65,317.58 222.40,317.04 223.15,317.49 223.90,317.26 224.65,316.89 225.40,316.94 226.15,316.99 226.90,316.83 227.65,317.38 228.40,317.20 229.15,317.23 229.90,316.85 230.65,317.21 231.40,300.78 232.15,284.46 232.90,262.70 233.65,273.58 234.40,303.50 235.15,316.98 235.90,317.00 236.65,313.15 237.40,305.25 238.15,301.30 238.90,308.41 239.65,312.36 240.40,317.00 241.15,316.77 241.90,316.81 242.65,317.00 243.40,316.86 244.15,317.33 244.90,315.06 245.65,313.02 246.40,310.30 247.15,311.66 247.90,315.40 248.65,316.87 249.40,316.94 250.15,317.68 250.90,316.95 251.65,316.89 252.40,317.38 253.15,317.28 253.90,317.03 254.65,317.43 255.40,316.74 256.15,316.98 256.90,313.65 257.65,306.75 258.40,303.30 259.15,309.51 259.90,312.96 260.65,317.21 261.40,316.82 262.15,316.81 262.90,316.98 263.65,317.31 264.40,316.84 265.15,316.51 265.90,317.29 266.65,317.31 267.40,316.86 268.15,317.19 268.90,317.36 269.65,306.18 270.40,295.26 271.15,280.70 271.90,287.98 272.65,308.00 273.40,317.10 274.15,316.78 274.90,317.10 275.65,317.22 276.40,316.70 277.15,316.75 277.90,316.91 278.65,317.00 279.40,316.93 280.15,313.78 280.90,307.12 281.65,303.80 282.40,309.79 283.15,313.11 283.90,317.11 284.65,317.53 285.40,317.02 286.15,316.97 286.90,316.90 287.65,317.19 288.40,317.13 289.15,317.14 289.90,316.99 290.65,303.09 291.40,289.08 292.15,270.40 292.90,272.00 293.65,292.30 294.40,303.57 295.15,317.05 295.90,317.29 296.65,317.55 297.40,317.10 298.15,317.04 298.90,317.08 299.65,317.43 300.40,317.47 301.15,317.13 301.90,317.25 302.65,315.57 303.40,314.04 304.15,312.00 304.90,308.77 305.65,306.00 306.40,311.00 307.15,309.84 307.90,305.00 308.65,307.42 309.40,314.08 310.15,316.94 310.90,317.43 311.65,317.15 312.40,317.45 313.15,317.59 313.90,317.54 314.65,308.98 315.40,292.73 316.15,284.60 316.90,299.04 317.65,287.00 318.40,293.02 319.15,309.58 319.90,316.83 320.65,317.79 321.40,316.95 322.15,317.33 322.90,316.71 323.65,316.96 324.40,317.42 325.15,317.37 325.90,316.85 326.65,317.09 327.40,317.39 328.15,316.66 328.90,317.30 329.65,316.73 330.40,317.27 331.15,317.05 331.90,317.36 332.65,316.98 333.40,317.02 334.15,317.02 334.90,315.40 335.65,312.00 336.40,310.30 337.15,313.36 337.90,315.06 338.65,317.02 339.40,317.37 340.15,317.28 340.90,317.31 341.65,316.82 342.40,312.36 343.15,307.62 343.90,301.30 344.65,304.46 345.40,313.15 346.15,316.73 346.90,317.24 347.65,317.24 348.40,317.05 349.15,316.78 349.90,317.14 350.65,317.06 351.40,317.59 352.15,317.43 352.90,317.00 353.65,316.84 354.40,316.89 355.15,317.09 355.90,316.92 356.65,317.59 357.40,316.81 358.15,317.08 358.90,317.14 359.65,317.21 360.40,316.87 361.15,317.05 361.90,317.15 362.65,317.19 363.40,316.96 364.15,317.03 364.90,317.16 365.65,316.08 366.40,314.02 367.15,313.00 367.90,314.85 368.65,315.87 369.40,317.47 370.15,317.46 370.90,317.13 371.65,317.35 372.40,317.48 373.15,314.67 373.90,312.24 374.65,309.00 375.40,310.62 376.15,315.08 376.90,317.10 377.65,317.52 378.40,317.06 379.15,316.82 379.90,317.34 380.65,317.35 381.40,317.22 382.15,317.09 382.90,316.93 383.65,316.96 384.40,317.50 385.15,317.32 385.90,317.15 386.65,317.23 387.40,317.04 388.15,316.89 388.90,317.01 389.65,317.11 390.40,316.71 391.15,316.76 391.90,316.69 392.65,317.00 393.40,317.27 394.15,316.78 394.90,316.83 395.65,316.71 396.40,316.99 397.15,316.81 397.90,316.85 398.65,316.83 399.40,317.66 400.15,317.08 400.90,316.94 401.65,316.33 402.40,314.77 403.15,314.00 403.90,315.40 404.65,314.70 405.40,314.66 406.15,314.11 406.90,313.80 407.65,313.86 408.40,314.26 409.15,315.27 409.90,315.71 410.65,316.77 411.40,316.86 412.15,317.01 412.90,316.99 413.65,316.96 414.40,316.98 415.15,317.29 415.90,317.49 416.65,316.93 417.40,316.84 418.15,317.41 418.90,317.02 419.65,317.17 420.40,317.14 421.15,317.33 421.90,316.88 422.65,317.39 423.40,317.26 424.15,316.26 424.90,316.29 425.65,315.59 426.40,315.05 427.15,314.19 427.90,313.34 428.65,312.92 429.40,312.77 430.15,312.62 430.90,312.74 431.65,313.74 432.40,313.92 433.15,314.22 433.90,315.28 434.65,316.04 435.40,316.30 436.15,316.97 436.90,316.89 437.65,316.55 438.40,317.19 439.15,317.26 439.90,317.25 440.65,317.02 441.40,316.77 442.15,316.73 442.90,316.44 443.65,316.15 444.40,315.78 445.15,315.12 445.90,314.22 446.65,313.79 447.40,312.90 448.15,312.90 448.90,312.39 449.65,312.13 450.40,311.63 451.15,311.66 451.90,310.97 452.65,311.19 453.40,311.12 454.15,311.30 454.90,311.20 455.65,311.81 456.40,311.94 457.15,312.84 457.90,313.29 458.65,314.06 459.40,314.14 460.15,315.00 460.90,315.58 461.65,315.52 462.40,316.88 463.15,316.89 463.90,316.79 464.65,317.55 465.40,317.43 466.15,316.48 466.90,317.02 467.65,316.94 468.40,317.10 469.15,316.85 469.90,317.03 470.65,317.11 471.40,316.47 472.15,317.12 472.90,317.44 473.65,317.12 474.40,317.37 475.15,317.48 475.90,317.16 476.65,317.19 477.40,317.19 478.15,316.99 478.90,317.66 479.65,317.21 480.40,317.24 481.15,317.33 481.90,317.47 482.65,316.76 483.40,316.84 484.15,317.13 484.90,317.23 485.65,316.80 486.40,316.76 487.15,317.29 487.90,317.28 488.65,317.03 489.40,317.02 490.15,316.94 490.90,316.80 491.65,316.88 492.40,317.13 493.15,317.04 493.90,317.33 494.65,316.76 495.40,316.67 496.15,317.23 496.90,316.85 497.65,317.01 498.40,317.09 499.15,316.77 499.90,316.70 500.65,317.15 501.40,316.41 502.15,317.23 502.90,316.64 503.65,317.28 504.40,317.15 505.15,317.14 505.90,317.20 506.65,317.11 507.40,316.74 508.15,317.28 508.90,317.11 509.65,317.19 510.40,317.05 511.15,317.02 511.90,317.31 512.65,317.31 513.40,317.14 514.15,316.78 514.90,316.85 515.65,316.83 516.40,317.36 517.15,317.21 517.90,317.10 518.65,317.05 519.40,316.91 520.15,317.29 520.90,309.66 521.65,302.22 522.40,292.30 523.15,297.26 523.90,300.52 524.65,295.00 525.40,304.94 526.15,308.07 526.90,299.04 527.65,287.00 528.40,293.02 529.15,309.58 529.90,316.87 530.65,317.51 531.40,316.69 532.15,308.33 532.90,290.77 533.65,282.00 534.40,297.80 535.15,306.57 535.90,316.75 536.65,317.19 537.40,317.08 538.15,316.88 538.90,317.03 539.65,317.48 540.40,317.04 541.15,313.11 541.90,309.12 542.65,303.80 543.40,306.46 544.15,313.78 544.90,317.11 545.65,316.63 546.40,316.88 547.15,316.54 547.90,316.94 548.65,317.18 549.40,316.69 550.15,317.48 550.90,317.41 551.65,317.30 552.40,316.91 553.15,317.10 553.90,317.23 554.65,317.33 555.40,317.41 556.15,316.56 556.90,316.92 557.65,316.80 558.40,317.01 559.15,317.15 559.90,317.67 560.65,317.07 561.40,317.32 562.15,317.12 562.90,317.09 563.65,317.53 564.40,316.82 565.15,317.26 565.90,317.61 566.65,317.95 567.40,299.98 568.15,265.73 568.90,248.60 569.65,250.00 570.40,263.42 571.15,300.33 571.90,317.38 572.65,317.02 573.40,308.98 574.15,292.73 574.90,284.60 575.65,299.23 576.40,307.35 577.15,317.12 577.90,317.31 578.65,317.11 579.40,317.15 580.15,317.09 580.90,316.79 581.65,317.10 582.40,314.67 583.15,312.24 583.90,309.00 584.65,310.62 585.40,315.08 586.15,317.08 586.90,317.53 587.65,317.33 588.40,317.03 589.15,316.91 589.90,317.34 590.65,317.09 591.40,316.64 592.15,316.98 592.90,317.51 593.65,316.66 594.40,317.10 595.15,313.15 595.90,305.25 596.65,301.30 597.40,308.41 598.15,312.36 598.90,317.03 599.65,317.09 600.40,317.05 601.15,316.81 601.90,316.93 602.65,317.64 603.40,316.80 604.15,317.00 604.90,316.76 605.65,317.02 606.40,317.14 607.15,297.69 607.90,278.28 608.65,252.40 609.40,265.34 610.15,300.92 610.90,317.07 611.65,317.08 612.40,317.39 613.15,316.90 613.90,317.06 614.65,316.85 615.40,316.95 616.15,317.46 616.90,316.90 617.65,317.21 618.40,317.61 619.15,317.21 619.90,310.25 620.65,296.55 621.40,289.70 622.15,302.03 622.90,308.88 623.65,317.32 624.40,317.25 625.15,316.75 625.90,317.23 626.65,316.92" fill="none" stroke="#008000" stroke-width="1.7" stroke-dasharray="1.7,2.77" stroke-linecap="butt" clip-path="url(#c1)"/>
<rect x="54.9" y="182.0" width="570.0" height="146.89999999999998" fill="none" stroke="#000" stroke-width="1.6"/>
<line x1="54.9" x2="50.6" y1="322.07" y2="322.07" stroke="#000" stroke-width="1.8"/>
<text x="48.30" y="327.57" font-size="13.7" text-anchor="end">−1</text>
<line x1="54.9" x2="50.6" y1="287.90" y2="287.90" stroke="#000" stroke-width="1.8"/>
<text x="48.30" y="293.40" font-size="13.7" text-anchor="end">0</text>
<line x1="54.9" x2="50.6" y1="253.74" y2="253.74" stroke="#000" stroke-width="1.8"/>
<text x="48.30" y="259.24" font-size="13.7" text-anchor="end">1</text>
<line x1="54.9" x2="50.6" y1="219.58" y2="219.58" stroke="#000" stroke-width="1.8"/>
<text x="48.30" y="225.08" font-size="13.7" text-anchor="end">2</text>
<line x1="54.9" x2="50.6" y1="185.42" y2="185.42" stroke="#000" stroke-width="1.8"/>
<text x="48.30" y="190.92" font-size="13.7" text-anchor="end">3</text>
<line x1="62.20" x2="62.20" y1="328.9" y2="333.2" stroke="#000" stroke-width="1.8"/>
<text x="62.40" y="346.60" font-size="13.7" text-anchor="middle">8100</text>
<line x1="131.71" x2="131.71" y1="328.9" y2="333.2" stroke="#000" stroke-width="1.8"/>
<text x="131.91" y="346.60" font-size="13.7" text-anchor="middle">8200</text>
<line x1="201.22" x2="201.22" y1="328.9" y2="333.2" stroke="#000" stroke-width="1.8"/>
<text x="201.42" y="346.60" font-size="13.7" text-anchor="middle">8300</text>
<line x1="270.74" x2="270.74" y1="328.9" y2="333.2" stroke="#000" stroke-width="1.8"/>
<text x="270.94" y="346.60" font-size="13.7" text-anchor="middle">8400</text>
<line x1="340.25" x2="340.25" y1="328.9" y2="333.2" stroke="#000" stroke-width="1.8"/>
<text x="340.45" y="346.60" font-size="13.7" text-anchor="middle">8500</text>
<line x1="409.76" x2="409.76" y1="328.9" y2="333.2" stroke="#000" stroke-width="1.8"/>
<text x="409.96" y="346.60" font-size="13.7" text-anchor="middle">8600</text>
<line x1="479.27" x2="479.27" y1="328.9" y2="333.2" stroke="#000" stroke-width="1.8"/>
<text x="479.47" y="346.60" font-size="13.7" text-anchor="middle">8700</text>
<line x1="548.78" x2="548.78" y1="328.9" y2="333.2" stroke="#000" stroke-width="1.8"/>
<text x="548.98" y="346.60" font-size="13.7" text-anchor="middle">8800</text>
<line x1="618.30" x2="618.30" y1="328.9" y2="333.2" stroke="#000" stroke-width="1.8"/>
<text x="618.50" y="346.60" font-size="13.7" text-anchor="middle">8900</text>
<text x="69.2" y="25.6" font-size="13.7">ELG at z=1.2958</text>
<text x="69.2" y="201.6" font-size="13.7">ELG at z=1.243</text>
<text x="379.6" y="39.8" font-size="13.7" text-anchor="middle">[OII]</text>
<text x="242.7" y="202.5" font-size="13.7" text-anchor="middle">[OII]</text>
<line x1="508.3" x2="537" y1="23" y2="23" stroke="#000" stroke-width="1.75"/>
<line x1="508.85" x2="536.6" y1="42.5" y2="42.5" stroke="#008000" stroke-width="1.75" stroke-dasharray="1.7,2.77"/>
<text x="547" y="27.5" font-size="13.7">Spectrum</text>
<text x="547" y="47.6" font-size="13.7">Noise</text>
<text x="339.9" y="366.6" font-size="15.4" text-anchor="middle">Wavelength [Å]</text>
<text transform="translate(19.0,274.6) rotate(-90)"><tspan x="-1.00" y="0" font-size="15.0">F</tspan><tspan x="7.75" y="0" font-size="15.0">l</tspan><tspan x="11.10" y="0" font-size="15.0">u</tspan><tspan x="21.15" y="0" font-size="15.0">x </tspan><tspan x="36.70" y="0" font-size="15.0">[</tspan><tspan x="42.30" y="0" font-size="15.0">1</tspan><tspan x="51.05" y="0" font-size="15.0">0</tspan><tspan x="61.15" y="-5.7" font-size="10.5">−</tspan><tspan x="69.60" y="-5.7" font-size="10.5">1</tspan><tspan x="76.70" y="-5.7" font-size="10.5">7 </tspan><tspan x="86.70" y="0" font-size="15.0">e</tspan><tspan x="96.00" y="0" font-size="15.0">r</tspan><tspan x="102.30" y="0" font-size="15.0">g </tspan><tspan x="114.20" y="0" font-size="15.0">s</tspan><tspan x="122.75" y="-5.7" font-size="10.5">−</tspan><tspan x="131.30" y="-5.7" font-size="10.5">1 </tspan><tspan x="143.15" y="0" font-size="15.0">c</tspan><tspan x="151.00" y="0" font-size="15.0">m</tspan><tspan x="164.65" y="-5.7" font-size="10.5">−</tspan><tspan x="173.50" y="-5.7" font-size="10.5">2 </tspan><tspan x="183.50" y="0" font-size="15.0">Å</tspan><tspan x="194.15" y="-5.7" font-size="10.5">−</tspan><tspan x="203.30" y="-5.7" font-size="10.5">1</tspan><tspan x="210.90" y="0" font-size="15.0">]</tspan></text>
</svg></body></html>
